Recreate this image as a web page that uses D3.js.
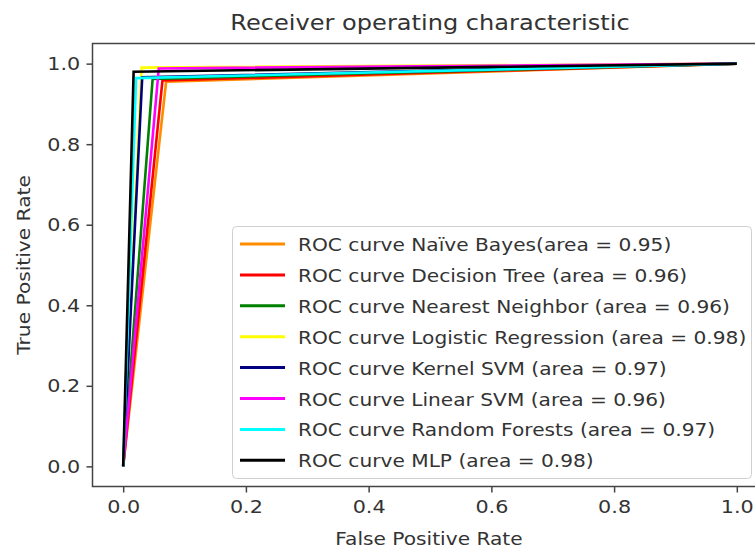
<!DOCTYPE html>
<html>
<head>
<meta charset="utf-8">
<script src="https://cdn.jsdelivr.net/npm/d3@7"></script>
<style>
    body { margin: 0; background: #fff; }
    text { font-family: "DejaVu Sans", sans-serif; fill: #333; }
</style>
</head>
<body>
<div class="chart"></div>
<script>
// one ROC point per model: (fpr, tpr), curve is (0,0) -> point -> (1,1)
const models = ["Naïve Bayes", "Decision Tree ", "Nearest Neighbor ", "Logistic Regression ",
    "Kernel SVM ", "Linear SVM ", "Random Forests ", "MLP "];
const areas = ["0.95", "0.96", "0.96", "0.98", "0.97", "0.96", "0.97", "0.98"];
const fpr = [0.07, 0.064, 0.048, 0.03, 0.031, 0.058, 0.021, 0.017];
const tpr = [0.955, 0.958, 0.962, 0.99, 0.966, 0.988, 0.964, 0.98];
const colors = ["darkorange", "red", "green", "yellow", "navy", "magenta", "cyan", "black"];
const ticks = [0, 0.2, 0.4, 0.6, 0.8, 1.0];

const width = 755;
const height = 551;
const sx = 1.12; // text in the picture runs a bit wide

const x = d3.scaleLinear().domain([-0.05, 1.05]).range([92.5, 767.5]);
const y = d3.scaleLinear().domain([-0.05, 1.05]).range([486.5, 43.5]);

const svg = d3.select(".chart")
    .append("svg")
    .attr("width", width)
    .attr("height", height);

function label(px, py, txt, size, anchor, rot) {
    return svg.append("text")
        .attr("transform", "translate(" + px + "," + py + ")" + (rot ? " rotate(-90)" : "") +
            " scale(" + sx + ",1)")
        .attr("text-anchor", anchor)
        .attr("font-size", size)
        .text(txt);
}

// frame
svg.append("rect")
    .attr("x", x(-0.05))
    .attr("y", y(1.05))
    .attr("width", x(1.05) - x(-0.05))
    .attr("height", y(-0.05) - y(1.05))
    .attr("fill", "none")
    .attr("stroke", "#444")
    .attr("stroke-width", 1.5);

const xAxis = svg.append("g")
    .attr("transform", "translate(0," + y(-0.05) + ")")
    .call(d3.axisBottom(x).tickValues(ticks).tickFormat(d3.format(".1f")).tickSize(6).tickPadding(7));
const yAxis = svg.append("g")
    .attr("transform", "translate(" + x(-0.05) + ",0)")
    .call(d3.axisLeft(y).tickValues(ticks).tickFormat(d3.format(".1f")).tickSize(6).tickPadding(5));

[xAxis, yAxis].forEach(function (a) {
    a.select(".domain").remove();
    a.selectAll(".tick line").attr("stroke", "#444").attr("stroke-width", 1.5);
    a.selectAll(".tick text")
        .attr("font-size", "18.5px")
        .attr("fill", "#333")
        .attr("transform", "scale(" + sx + ",1)");
});

const line = d3.line()
    .x(function (d) { return x(d[0]); })
    .y(function (d) { return y(d[1]); });

models.forEach(function (m, i) {
    svg.append("path")
        .datum([[0, 0], [fpr[i], tpr[i]], [1, 1]])
        .attr("d", line)
        .attr("fill", "none")
        .attr("stroke", colors[i])
        .attr("stroke-width", 2.6)
        .attr("stroke-linejoin", "miter");
});

// title and axis labels
label(430, 30, "Receiver operating characteristic", "21.5px", "middle");
label(429, 545, "False Positive Rate", "18px", "middle");
label(30, y(0.5), "True Positive Rate", "18px", "middle", true);

// legend
const legend = svg.append("g");
legend.append("rect")
    .attr("x", 232.5)
    .attr("y", 226.5)
    .attr("width", 519)
    .attr("height", 252)
    .attr("rx", 4)
    .attr("fill", "white")
    .attr("fill-opacity", 0.85)
    .attr("stroke", "#d0d0d0");

const rowH = 30.9;
models.forEach(function (m, i) {
    const ly = 244 + i * rowH;
    legend.append("line")
        .attr("x1", 240).attr("x2", 285)
        .attr("y1", ly).attr("y2", ly)
        .attr("stroke", colors[i])
        .attr("stroke-width", 3);
    label(298, ly + 7, "ROC curve " + m + "(area = " + areas[i] + ")", "18px", "start");
});
</script>
</body>
</html>
